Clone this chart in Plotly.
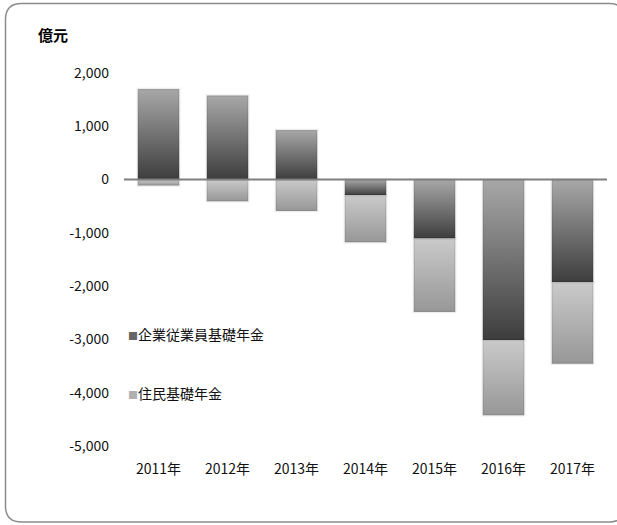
import plotly.graph_objects as go

# Yearly figures, 億元
years = ["2011年", "2012年", "2013年", "2014年", "2015年", "2016年", "2017年"]
employee_basic = [1700, 1580, 930, -295, -1105, -3010, -1925]   # 企業従業員基礎年金
resident_basic = [-110, -405, -590, -880, -1380, -1415, -1530]  # 住民基礎年金
y_ticks = [-5000, -4000, -3000, -2000, -1000, 0, 1000, 2000]

series = [
    ("企業従業員基礎年金", employee_basic, "#3d3d3d", "#a8a8a8", "#666666"),
    ("住民基礎年金", resident_basic, "#979797", "#cacaca", "#b0b0b0"),
]

W, H = 617, 525
ML, MR, MT, MB = 124, 10, 73, 79
PW, PH = W - ML - MR, H - MT - MB
BAR_HALF = 0.3
FONT = "Noto Sans CJK JP"

fig = go.Figure()

# relative stacking: positives build upward, negatives downward
pos_base = [0.0] * len(years)
neg_base = [0.0] * len(years)
for name, vals, dark, light, swatch in series:
    for i, v in enumerate(vals):
        if v >= 0:
            y0, y1 = pos_base[i], pos_base[i] + v
            pos_base[i] = y1
        else:
            y0, y1 = neg_base[i], neg_base[i] + v
            neg_base[i] = y1
        fig.add_trace(go.Scatter(
            x=[i - BAR_HALF, i + BAR_HALF, i + BAR_HALF, i - BAR_HALF, i - BAR_HALF],
            y=[y0, y0, y1, y1, y0],
            mode="lines", fill="toself", name=name,
            line=dict(color="rgba(0,0,0,0.07)", width=2.5),
            fillgradient=dict(type="vertical", colorscale=[[0, dark], [1, light]]),
            showlegend=False, hoverinfo="skip",
        ))


def px_to_paper(px, py):
    return (px - ML) / PW, 1 - (py - MT) / PH


# legend entries placed inside the plot area
for k, (name, vals, dark, light, swatch) in enumerate(series):
    lx, ly = px_to_paper(126, 334 + 59 * k)
    fig.add_annotation(
        text=f"<span style='font-size:10px;color:{swatch}'>■</span>{name}",
        xref="paper", yref="paper", x=lx, y=ly, xanchor="left", yanchor="middle",
        showarrow=False, font=dict(size=14, family=FONT, color="#111111"),
    )

# rounded frame around the chart (its right side runs past the page edge)
x0, y0, x1, y1, r = 5.5, 3.5, 625, 522, 16
pts = [
    ("M", x1, y0 + r), ("Q", x1, y0, x1 - r, y0),
    ("L", x0 + r, y0), ("Q", x0, y0, x0, y0 + r),
    ("L", x0, y1 - r), ("Q", x0, y1, x0 + r, y1),
    ("L", x1 - r, y1), ("Q", x1, y1, x1, y1 - r),
]
path = ""
for p in pts:
    cmd, coords = p[0], p[1:]
    conv = []
    for k in range(0, len(coords), 2):
        a, b = px_to_paper(coords[k], coords[k + 1])
        conv.append(f"{a:.5f},{b:.5f}")
    path += cmd + " ".join(conv) + " "

fig.add_shape(type="path", path=path.strip(), xref="paper", yref="paper",
              fillcolor="rgba(0,0,0,0)",
              line=dict(color="#8c8c8c", width=1.5), layer="below")

# zero baseline
fig.add_shape(type="line", xref="paper", yref="y", x0=0, x1=1, y0=0, y1=0,
              line=dict(color="#7f7f7f", width=2), layer="above")

fig.add_annotation(text="<b>億元</b>", xref="paper", yref="paper",
                   x=px_to_paper(36, 0)[0], y=px_to_paper(0, 35)[1],
                   xanchor="left", yanchor="middle", showarrow=False,
                   font=dict(size=15, color="#000000", family=FONT))

fig.update_layout(
    width=W, height=H,
    margin=dict(l=ML, r=MR, t=MT, b=MB),
    paper_bgcolor="white", plot_bgcolor="white",
    font=dict(family=FONT, size=14, color="#111111"),
    xaxis=dict(range=[-0.5, len(years) - 0.5], tickvals=list(range(len(years))),
               ticktext=years, showgrid=False, zeroline=False, showline=False,
               ticks="", ticklabelstandoff=13, fixedrange=True),
    yaxis=dict(range=[-5000, 2000], tickvals=y_ticks,
               ticktext=[f"{v:,}" for v in y_ticks],
               showgrid=False, zeroline=False, showline=False,
               ticks="", ticklabelstandoff=14, fixedrange=True),
    showlegend=False,
)

fig.write_html("out.html")
